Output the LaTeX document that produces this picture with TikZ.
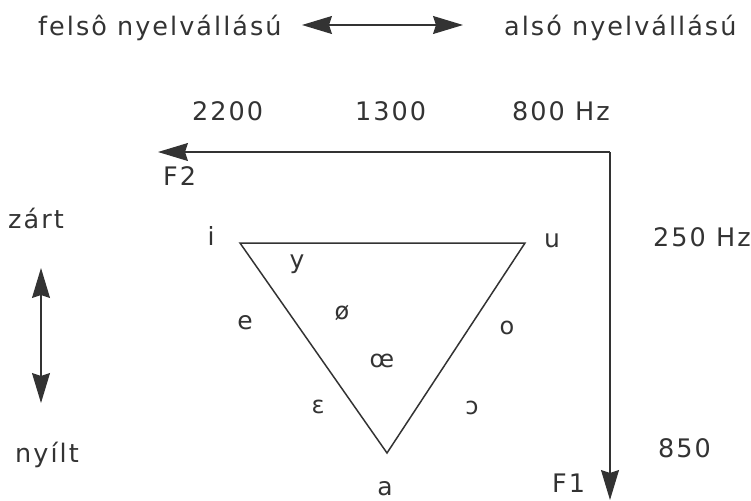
\documentclass[tikz,border=0pt]{standalone}
\usepackage{fontspec}
\setmainfont{DejaVu Sans}
\newfontfamily\lblfont[LetterSpace=8]{DejaVu Sans}
\newfontfamily\symfont{DejaVu Sans}
\usetikzlibrary{arrows.meta}
\definecolor{ink}{gray}{0.2}
\begin{document}
\begin{tikzpicture}[x=1pt,y=-1pt,
  lbl/.style={inner sep=0pt, anchor=base west, font=\lblfont\fontsize{25.5}{30}\selectfont, text=ink},
  vow/.style={inner sep=0pt, anchor=base, font=\symfont\fontsize{25}{30}\selectfont, text=ink},
  vowsm/.style={inner sep=0pt, anchor=base, font=\symfont\fontsize{24}{28}\selectfont, text=ink},
  axis/.style={draw=ink, line width=1.2pt},
  bigtip/.style={-{Stealth[length=30pt,width=18pt,inset=3pt]}},
  twotip/.style={{Stealth[length=30pt,width=18pt,inset=3pt]}-{Stealth[length=30pt,width=18pt,inset=3pt]}},
  tri/.style={draw=ink, line width=1.5pt, line join=miter}]
\useasboundingbox (0,0) rectangle (751,500);
% top legend
\node[lbl] (felso) at (38,36) {felsô nyelvállású};
\node[lbl] (also) at (504,36) {alsó nyelvállású};
\coordinate (hl) at (302,25);
\coordinate (hr) at (463,25);
\draw[axis, twotip] (hl) -- (hr);
% F2 axis
\node[lbl] (f2a) at (192,120) {2200};
\node[lbl] (f2b) at (355,120) {1300};
\node[lbl] (f2c) at (512,120) {800 Hz};
\coordinate (corner) at (610,152);
\coordinate (f2end) at (158,152);
\coordinate (f1end) at (610,500);
\draw[axis, bigtip] (corner) -- (f2end);
\draw[axis, bigtip] (corner) -- (f1end);
\node[lbl] (f2) at (163,185) {F2};
\node[lbl] (f1) at (552,492) {F1};
\node[lbl] (f1a) at (653,246) {250 Hz};
\node[lbl] (f1b) at (658,457) {850};
% left vertical
\node[lbl] (zart) at (8,228) {zárt};
\node[lbl] (nyilt) at (15,462) {nyílt};
\coordinate (vt) at (41,268);
\coordinate (vb) at (41,403);
\draw[axis, twotip] (vt) -- (vb);
% triangle
\coordinate (vi) at (240,243);
\coordinate (vu) at (525,243);
\coordinate (va) at (387,453);
\draw[tri] (vi) -- (vu) -- (va) -- cycle;
\node[vow] (i) at (211,245) {i};
\node[vow] (u) at (552,247) {u};
\node[vow] (a) at (385,495) {a};
\node[vow] (y) at (297,268) {y};
\node[vow] (e) at (245,329) {e};
\node[vowsm] (oe) at (342,319) {ø};
\node[vowsm] (o) at (507,334) {o};
\node[vowsm] (oelig) at (382,367) {œ};
\node[vowsm] (eps) at (318,413) {ɛ};
\node[vowsm] (openo) at (472,414) {ɔ};
\end{tikzpicture}
\end{document}
